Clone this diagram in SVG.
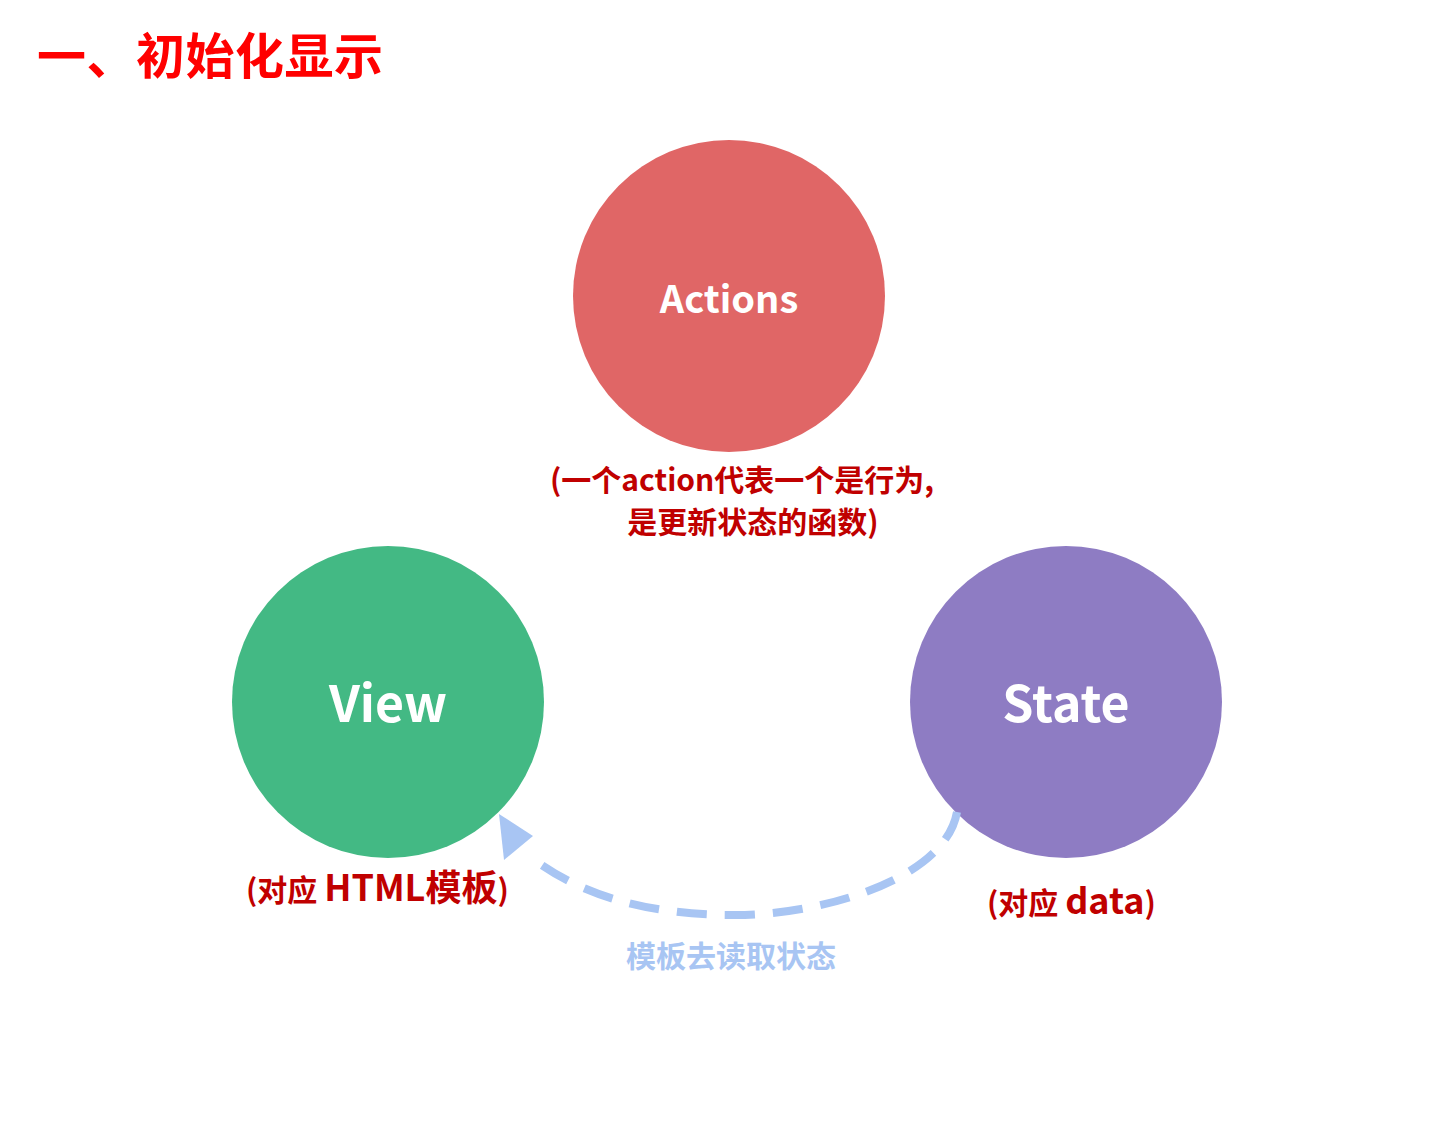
<svg xmlns="http://www.w3.org/2000/svg" width="1436" height="1133" viewBox="0 0 1436 1133">
<style>
text{font-family:"Noto Sans CJK SC","Noto Sans",sans-serif;font-weight:bold}
.lbl{fill:#ffffff;text-anchor:middle}
.note{fill:#c00000;font-size:30px}
</style>
<rect width="1436" height="1133" fill="#ffffff"/>
<text x="37" y="74" fill="#ff0000" font-size="49" letter-spacing="0.5">一、初始化显示</text>
<g id="actions">
<circle cx="729" cy="296" r="156" fill="#e06666"/>
<text class="lbl" x="729" y="313" font-size="38">Actions</text>
</g>
<g id="view">
<circle cx="388" cy="702" r="156" fill="#43b984"/>
<text class="lbl" x="388" y="722" font-size="50">View</text>
</g>
<g id="state">
<circle cx="1066" cy="702" r="156" fill="#8e7cc3"/>
<text class="lbl" x="1066" y="722" font-size="50">State</text>
</g>
<g id="notes">
<text class="note" x="742" y="491" text-anchor="middle">(一个action代表一个是行为,</text>
<text class="note" x="753" y="533" text-anchor="middle">是更新状态的函数)</text>
<text class="note" x="246" y="901">(对应 <tspan font-size="36">HTML模板</tspan>)</text>
<text class="note" x="987" y="914">(对应 <tspan font-size="36">data</tspan>)</text>
</g>
<g id="connectors">
<path d="M957,812 C945,880 820,915 735,915 C640,915 575,892 528,855" fill="none" stroke="#a8c5f3" stroke-width="8" stroke-dasharray="30,18"/>
<polygon points="499,814 504,860 533,836" fill="#a8c5f3"/>
<text x="731" y="967" fill="#a8c5f3" font-size="30" text-anchor="middle">模板去读取状态</text>
</g>
</svg>
